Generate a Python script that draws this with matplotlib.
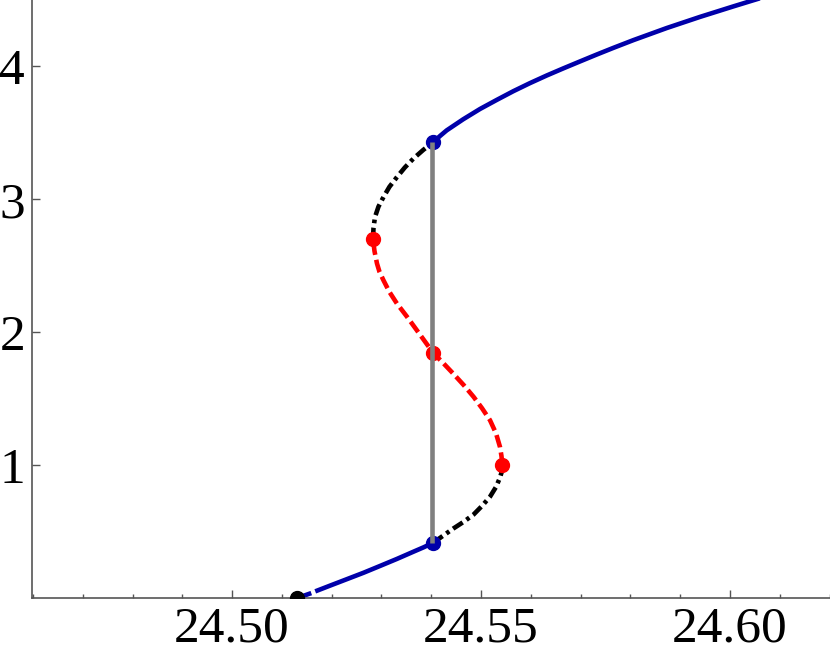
import numpy as np
import matplotlib
matplotlib.use("Agg")
import matplotlib.pyplot as plt
from matplotlib.ticker import MultipleLocator, FixedLocator

# (x, y) along each branch of the S-curve
blue_stub_x = [24.5131, 24.5159]
blue_stub_y = [0.0, 0.037]

blue_low_x = [24.5167, 24.5198, 24.5230, 24.5264, 24.5297, 24.5331, 24.5364, 24.5385, 24.5404]
blue_low_y = [0.050, 0.095, 0.141, 0.190, 0.241, 0.294, 0.348, 0.382, 0.416]

black_low_x = [24.5404, 24.5424, 24.5444, 24.5465, 24.5485, 24.5502, 24.5518, 24.5530, 24.5538, 24.5542, 24.5543]
black_low_y = [0.416, 0.469, 0.522, 0.573, 0.628, 0.693, 0.762, 0.835, 0.905, 0.955, 1.000]

red_x = [24.5543, 24.5541, 24.5538, 24.5530, 24.5518, 24.5502, 24.5485, 24.5465, 24.5444, 24.5424,
         24.5404, 24.5387, 24.5371, 24.5351, 24.5331, 24.5316, 24.5304, 24.5296, 24.5291, 24.5286, 24.5283]
red_y = [1.000, 1.070, 1.138, 1.240, 1.338, 1.428, 1.514, 1.603, 1.689, 1.768,
         1.844, 1.932, 2.015, 2.118, 2.216, 2.303, 2.391, 2.455, 2.517, 2.610, 2.700]

black_up_x = [24.5283, 24.5284, 24.5287, 24.5294, 24.5304, 24.5316, 24.5331, 24.5347, 24.5364, 24.5384, 24.5404]
black_up_y = [2.700, 2.785, 2.867, 2.945, 3.017, 3.094, 3.167, 3.240, 3.306, 3.372, 3.430]

blue_up_x = [24.5404, 24.5418, 24.5431, 24.5464, 24.5498, 24.5532, 24.5565, 24.5598, 24.5632, 24.5665,
             24.5699, 24.5732, 24.5766, 24.5806, 24.5873, 24.5940, 24.6007, 24.6047, 24.6120]
blue_up_y = [3.430, 3.478, 3.519, 3.602, 3.680, 3.749, 3.814, 3.874, 3.932, 3.985,
             4.038, 4.089, 4.140, 4.198, 4.289, 4.373, 4.452, 4.498, 4.580]

jump_x = 24.5402
jump_y = [0.416, 3.430]

fold_x = [24.5543, 24.5283]
fold_y = [1.000, 2.700]
mid_x = [24.5404]
mid_y = [1.844]
stable_x = [24.5404, 24.5404]
stable_y = [0.416, 3.430]
start_x = [24.5131]
start_y = [0.0]

xticks = [24.50, 24.55, 24.60]
xtick_labels = ["24.50", "24.55", "24.60"]
yticks = [1, 2, 3, 4]
ytick_labels = ["1", "2", "3", "4"]

BLUE = "#0000aa"
RED = "#ff0000"
GRAY = "#808080"
LW = 3.3

fig = plt.figure(figsize=(8.3, 6.58), dpi=100)
ax = fig.add_axes([32 / 830, 60 / 658, 798 / 830, 598 / 658])

ax.plot(blue_stub_x, blue_stub_y, color=BLUE, lw=LW, solid_capstyle="butt")
ax.plot(blue_low_x, blue_low_y, color=BLUE, lw=LW, solid_capstyle="butt")
ax.plot(blue_up_x, blue_up_y, color=BLUE, lw=LW)
ax.plot(black_low_x, black_low_y, color="black", lw=LW,
        linestyle=(0, (2.5, 1.0, 0.8, 1.0)), dash_capstyle="butt")
ax.plot(black_up_x, black_up_y, color="black", lw=LW,
        linestyle=(0, (2.5, 1.0, 0.8, 1.0)), dash_capstyle="butt")
ax.plot(red_x, red_y, color=RED, lw=LW,
        linestyle=(0, (2.8, 1.1)), dash_capstyle="butt")

ax.plot(stable_x, stable_y, "o", color=BLUE, ms=10, zorder=3)
ax.plot(fold_x, fold_y, "o", color=RED, ms=10, zorder=3)
ax.plot(mid_x, mid_y, "o", color=RED, ms=10, zorder=3)
ax.plot(start_x, start_y, "o", color="black", ms=10, zorder=3)

ax.plot([jump_x, jump_x], jump_y, color=GRAY, lw=LW, zorder=4, solid_capstyle="butt")

ax.set_xlim(24.4598, 24.6201)
ax.set_ylim(0, 4.5)

for s in ["top", "right"]:
    ax.spines[s].set_visible(False)
for s in ["left", "bottom"]:
    ax.spines[s].set_color("#555555")
    ax.spines[s].set_linewidth(1.2)

ax.xaxis.set_major_locator(FixedLocator(xticks))
ax.set_xticklabels(xtick_labels)
ax.xaxis.set_minor_locator(MultipleLocator(0.01))
ax.set_yticks(yticks)
ax.set_yticklabels(ytick_labels)

ax.tick_params(which="both", direction="in", color="#555555", width=1.0)
ax.tick_params(which="major", length=5.8)
ax.tick_params(which="minor", length=3.2)
ax.tick_params(axis="x", pad=6)
ax.tick_params(axis="y", pad=5)
for lab in ax.get_xticklabels() + ax.get_yticklabels():
    lab.set_fontfamily("Liberation Serif")
    lab.set_fontsize(37)

fig.savefig("out.png", dpi=100)
